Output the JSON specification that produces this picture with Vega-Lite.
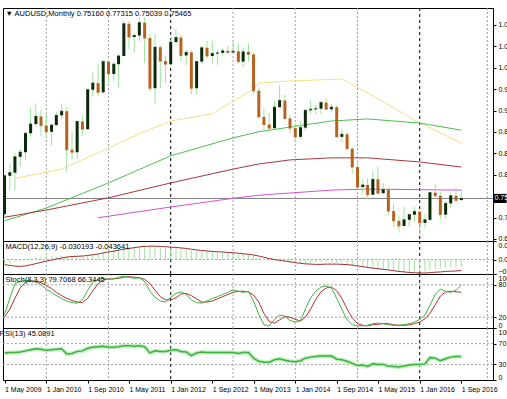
{
  "$schema": "https://vega.github.io/schema/vega-lite/v6.json",
  "padding": {"left": -4, "top": 7, "right": 0, "bottom": 0},
  "background": "white",
  "spacing": 0,
  "bounds": "flush",
  "config": {
    "view": {"stroke": "black", "strokeWidth": 1},
    "font": "Liberation Sans",
    "axis": {"labelFont": "Liberation Sans", "labelFontSize": 7, "labelColor": "black", "tickColor": "black", "tickSize": 3, "labelPadding": 2, "domain": false, "grid": false, "title": null, "labelOverlap": false},
    "axisY": {"labelOverlap": false},
    "title": {"font": "Liberation Sans", "fontSize": 7.5, "fontWeight": "normal", "anchor": "start", "color": "black", "offset": -10, "dx": 3},
    "scale": {"continuousPadding": 0}
  },
  "datasets": {
    "ohlc": [
      {"date":"2009-05-01","o":0.724,"h":0.801,"l":0.718,"c":0.799},
      {"date":"2009-06-01","o":0.799,"h":0.8225,"l":0.7705,"c":0.805},
      {"date":"2009-07-01","o":0.805,"h":0.843,"l":0.77,"c":0.836},
      {"date":"2009-08-01","o":0.836,"h":0.852,"l":0.817,"c":0.845},
      {"date":"2009-09-01","o":0.845,"h":0.884,"l":0.829,"c":0.882},
      {"date":"2009-10-01","o":0.882,"h":0.933,"l":0.875,"c":0.9},
      {"date":"2009-11-01","o":0.9,"h":0.94,"l":0.894,"c":0.915},
      {"date":"2009-12-01","o":0.915,"h":0.929,"l":0.876,"c":0.897},
      {"date":"2010-01-01","o":0.897,"h":0.919,"l":0.875,"c":0.885},
      {"date":"2010-02-01","o":0.885,"h":0.9,"l":0.858,"c":0.898},
      {"date":"2010-03-01","o":0.898,"h":0.923,"l":0.895,"c":0.917},
      {"date":"2010-04-01","o":0.917,"h":0.94,"l":0.91,"c":0.925},
      {"date":"2010-05-01","o":0.925,"h":0.933,"l":0.807,"c":0.85},
      {"date":"2010-06-01","o":0.85,"h":0.886,"l":0.831,"c":0.845},
      {"date":"2010-07-01","o":0.845,"h":0.909,"l":0.832,"c":0.905},
      {"date":"2010-08-01","o":0.905,"h":0.915,"l":0.877,"c":0.89},
      {"date":"2010-09-01","o":0.89,"h":0.97,"l":0.888,"c":0.967},
      {"date":"2010-10-01","o":0.967,"h":1.001,"l":0.954,"c":0.98},
      {"date":"2010-11-01","o":0.98,"h":1.018,"l":0.954,"c":0.962},
      {"date":"2010-12-01","o":0.962,"h":1.025,"l":0.959,"c":1.022},
      {"date":"2011-01-01","o":1.022,"h":1.025,"l":0.98,"c":0.998},
      {"date":"2011-02-01","o":0.998,"h":1.02,"l":0.983,"c":1.017},
      {"date":"2011-03-01","o":1.017,"h":1.037,"l":0.971,"c":1.033},
      {"date":"2011-04-01","o":1.033,"h":1.101,"l":1.032,"c":1.096},
      {"date":"2011-05-01","o":1.096,"h":1.101,"l":1.046,"c":1.07},
      {"date":"2011-06-01","o":1.07,"h":1.078,"l":1.04,"c":1.073},
      {"date":"2011-07-01","o":1.073,"h":1.108,"l":1.062,"c":1.098},
      {"date":"2011-08-01","o":1.098,"h":1.108,"l":1.02,"c":1.068},
      {"date":"2011-09-01","o":1.068,"h":1.076,"l":0.963,"c":0.97},
      {"date":"2011-10-01","o":0.97,"h":1.076,"l":0.939,"c":1.05},
      {"date":"2011-11-01","o":1.05,"h":1.055,"l":0.97,"c":1.023},
      {"date":"2011-12-01","o":1.023,"h":1.035,"l":0.981,"c":1.017},
      {"date":"2012-01-01","o":1.017,"h":1.065,"l":1.014,"c":1.06},
      {"date":"2012-02-01","o":1.06,"h":1.086,"l":1.058,"c":1.069},
      {"date":"2012-03-01","o":1.069,"h":1.074,"l":1.022,"c":1.034},
      {"date":"2012-04-01","o":1.034,"h":1.045,"l":1.015,"c":1.04},
      {"date":"2012-05-01","o":1.04,"h":1.045,"l":0.958,"c":0.97},
      {"date":"2012-06-01","o":0.97,"h":1.023,"l":0.958,"c":1.022},
      {"date":"2012-07-01","o":1.022,"h":1.053,"l":1.017,"c":1.049},
      {"date":"2012-08-01","o":1.049,"h":1.062,"l":1.029,"c":1.033},
      {"date":"2012-09-01","o":1.033,"h":1.062,"l":1.018,"c":1.038},
      {"date":"2012-10-01","o":1.038,"h":1.045,"l":1.015,"c":1.039},
      {"date":"2012-11-01","o":1.039,"h":1.048,"l":1.034,"c":1.043},
      {"date":"2012-12-01","o":1.043,"h":1.053,"l":1.036,"c":1.04},
      {"date":"2013-01-01","o":1.04,"h":1.06,"l":1.038,"c":1.042},
      {"date":"2013-02-01","o":1.042,"h":1.058,"l":1.018,"c":1.022},
      {"date":"2013-03-01","o":1.022,"h":1.05,"l":1.011,"c":1.041},
      {"date":"2013-04-01","o":1.041,"h":1.058,"l":1.022,"c":1.036},
      {"date":"2013-05-01","o":1.036,"h":1.038,"l":0.958,"c":0.965},
      {"date":"2013-06-01","o":0.965,"h":0.971,"l":0.911,"c":0.914},
      {"date":"2013-07-01","o":0.914,"h":0.931,"l":0.885,"c":0.899},
      {"date":"2013-08-01","o":0.899,"h":0.923,"l":0.885,"c":0.892},
      {"date":"2013-09-01","o":0.892,"h":0.945,"l":0.889,"c":0.933},
      {"date":"2013-10-01","o":0.933,"h":0.976,"l":0.932,"c":0.946},
      {"date":"2013-11-01","o":0.946,"h":0.957,"l":0.908,"c":0.911},
      {"date":"2013-12-01","o":0.911,"h":0.918,"l":0.882,"c":0.892},
      {"date":"2014-01-01","o":0.892,"h":0.9,"l":0.866,"c":0.875},
      {"date":"2014-02-01","o":0.875,"h":0.905,"l":0.87,"c":0.893},
      {"date":"2014-03-01","o":0.893,"h":0.928,"l":0.888,"c":0.927},
      {"date":"2014-04-01","o":0.927,"h":0.946,"l":0.92,"c":0.929},
      {"date":"2014-05-01","o":0.929,"h":0.937,"l":0.919,"c":0.93},
      {"date":"2014-06-01","o":0.93,"h":0.945,"l":0.92,"c":0.942},
      {"date":"2014-07-01","o":0.942,"h":0.95,"l":0.928,"c":0.929},
      {"date":"2014-08-01","o":0.929,"h":0.94,"l":0.924,"c":0.933},
      {"date":"2014-09-01","o":0.933,"h":0.937,"l":0.873,"c":0.875},
      {"date":"2014-10-01","o":0.875,"h":0.89,"l":0.865,"c":0.88},
      {"date":"2014-11-01","o":0.88,"h":0.884,"l":0.85,"c":0.852},
      {"date":"2014-12-01","o":0.852,"h":0.855,"l":0.803,"c":0.816},
      {"date":"2015-01-01","o":0.816,"h":0.83,"l":0.774,"c":0.777},
      {"date":"2015-02-01","o":0.777,"h":0.791,"l":0.762,"c":0.781},
      {"date":"2015-03-01","o":0.781,"h":0.794,"l":0.753,"c":0.762},
      {"date":"2015-04-01","o":0.762,"h":0.808,"l":0.761,"c":0.792},
      {"date":"2015-05-01","o":0.792,"h":0.816,"l":0.764,"c":0.765},
      {"date":"2015-06-01","o":0.765,"h":0.785,"l":0.764,"c":0.772},
      {"date":"2015-07-01","o":0.772,"h":0.777,"l":0.723,"c":0.73},
      {"date":"2015-08-01","o":0.73,"h":0.744,"l":0.7,"c":0.711},
      {"date":"2015-09-01","o":0.711,"h":0.721,"l":0.69,"c":0.701},
      {"date":"2015-10-01","o":0.701,"h":0.738,"l":0.7,"c":0.713},
      {"date":"2015-11-01","o":0.713,"h":0.725,"l":0.701,"c":0.723},
      {"date":"2015-12-01","o":0.723,"h":0.739,"l":0.709,"c":0.729},
      {"date":"2016-01-01","o":0.729,"h":0.732,"l":0.683,"c":0.707},
      {"date":"2016-02-01","o":0.707,"h":0.724,"l":0.697,"c":0.713},
      {"date":"2016-03-01","o":0.713,"h":0.768,"l":0.711,"c":0.766},
      {"date":"2016-04-01","o":0.766,"h":0.784,"l":0.754,"c":0.76},
      {"date":"2016-05-01","o":0.76,"h":0.768,"l":0.715,"c":0.723},
      {"date":"2016-06-01","o":0.723,"h":0.75,"l":0.715,"c":0.745},
      {"date":"2016-07-01","o":0.745,"h":0.765,"l":0.738,"c":0.76},
      {"date":"2016-08-01","o":0.76,"h":0.776,"l":0.748,"c":0.751},
      {"date":"2016-09-01","o":0.7516,"h":0.77315,"l":0.75039,"c":0.75465}
    ],
    "ma": [
      {"date":"2009-07-01","ma":"ma1","value":0.794},
      {"date":"2010-04-01","ma":"ma1","value":0.812},
      {"date":"2011-01-01","ma":"ma1","value":0.853},
      {"date":"2011-07-01","ma":"ma1","value":0.881},
      {"date":"2012-01-01","ma":"ma1","value":0.906},
      {"date":"2012-09-01","ma":"ma1","value":0.92},
      {"date":"2013-01-01","ma":"ma1","value":0.945},
      {"date":"2013-05-01","ma":"ma1","value":0.968},
      {"date":"2013-06-01","ma":"ma1","value":0.98},
      {"date":"2013-12-01","ma":"ma1","value":0.984},
      {"date":"2014-10-01","ma":"ma1","value":0.988},
      {"date":"2015-03-01","ma":"ma1","value":0.961},
      {"date":"2016-01-01","ma":"ma1","value":0.902},
      {"date":"2016-05-01","ma":"ma1","value":0.883},
      {"date":"2016-09-01","ma":"ma1","value":0.863},
      {"date":"2009-05-01","ma":"ma2","value":0.711},
      {"date":"2010-01-01","ma":"ma2","value":0.736},
      {"date":"2011-01-01","ma":"ma2","value":0.785},
      {"date":"2012-01-01","ma":"ma2","value":0.838},
      {"date":"2013-01-01","ma":"ma2","value":0.873},
      {"date":"2013-06-01","ma":"ma2","value":0.885},
      {"date":"2013-12-01","ma":"ma2","value":0.894},
      {"date":"2014-08-01","ma":"ma2","value":0.906},
      {"date":"2015-03-01","ma":"ma2","value":0.91},
      {"date":"2015-08-01","ma":"ma2","value":0.906},
      {"date":"2016-01-01","ma":"ma2","value":0.902},
      {"date":"2016-09-01","ma":"ma2","value":0.888},
      {"date":"2009-05-01","ma":"ma3","value":0.718},
      {"date":"2010-01-01","ma":"ma3","value":0.732},
      {"date":"2011-01-01","ma":"ma3","value":0.756},
      {"date":"2012-01-01","ma":"ma3","value":0.785},
      {"date":"2013-01-01","ma":"ma3","value":0.812},
      {"date":"2013-06-01","ma":"ma3","value":0.822},
      {"date":"2013-12-01","ma":"ma3","value":0.83},
      {"date":"2014-08-01","ma":"ma3","value":0.834},
      {"date":"2015-03-01","ma":"ma3","value":0.834},
      {"date":"2016-01-01","ma":"ma3","value":0.826},
      {"date":"2016-09-01","ma":"ma3","value":0.816},
      {"date":"2010-11-01","ma":"ma4","value":0.717},
      {"date":"2012-01-01","ma":"ma4","value":0.738},
      {"date":"2013-01-01","ma":"ma4","value":0.755},
      {"date":"2013-06-01","ma":"ma4","value":0.761},
      {"date":"2014-08-01","ma":"ma4","value":0.771},
      {"date":"2015-03-01","ma":"ma4","value":0.773},
      {"date":"2016-09-01","ma":"ma4","value":0.771}
    ],
    "ind": [
      {"date":"2009-05-01","macd":-0.018,"sig":-0.020,"k":25,"d":20,"rsi":52},
      {"date":"2009-06-01","macd":-0.014,"sig":-0.023,"k":55,"d":35,"rsi":53},
      {"date":"2009-07-01","macd":-0.008,"sig":-0.026,"k":82,"d":55,"rsi":53},
      {"date":"2009-08-01","macd":-0.004,"sig":-0.027,"k":86,"d":74,"rsi":54},
      {"date":"2009-09-01","macd":0.002,"sig":-0.025,"k":88,"d":85,"rsi":56},
      {"date":"2009-10-01","macd":0.007,"sig":-0.021,"k":88,"d":87,"rsi":58},
      {"date":"2009-11-01","macd":0.010,"sig":-0.016,"k":85,"d":87,"rsi":60},
      {"date":"2009-12-01","macd":0.012,"sig":-0.011,"k":80,"d":84,"rsi":59},
      {"date":"2010-01-01","macd":0.013,"sig":-0.006,"k":72,"d":79,"rsi":57},
      {"date":"2010-02-01","macd":0.012,"sig":-0.002,"k":66,"d":73,"rsi":58},
      {"date":"2010-03-01","macd":0.013,"sig":0.002,"k":60,"d":66,"rsi":59},
      {"date":"2010-04-01","macd":0.014,"sig":0.006,"k":55,"d":60,"rsi":60},
      {"date":"2010-05-01","macd":0.011,"sig":0.010,"k":50,"d":55,"rsi":50},
      {"date":"2010-06-01","macd":0.009,"sig":0.012,"k":47,"d":51,"rsi":51},
      {"date":"2010-07-01","macd":0.010,"sig":0.013,"k":46,"d":48,"rsi":55},
      {"date":"2010-08-01","macd":0.011,"sig":0.014,"k":52,"d":47,"rsi":56},
      {"date":"2010-09-01","macd":0.016,"sig":0.016,"k":70,"d":55,"rsi":61},
      {"date":"2010-10-01","macd":0.021,"sig":0.019,"k":85,"d":69,"rsi":63},
      {"date":"2010-11-01","macd":0.025,"sig":0.022,"k":90,"d":82,"rsi":64},
      {"date":"2010-12-01","macd":0.030,"sig":0.026,"k":92,"d":89,"rsi":65},
      {"date":"2011-01-01","macd":0.034,"sig":0.030,"k":90,"d":91,"rsi":63},
      {"date":"2011-02-01","macd":0.037,"sig":0.033,"k":91,"d":91,"rsi":63},
      {"date":"2011-03-01","macd":0.041,"sig":0.037,"k":94,"d":92,"rsi":64},
      {"date":"2011-04-01","macd":0.046,"sig":0.041,"k":96,"d":94,"rsi":66},
      {"date":"2011-05-01","macd":0.050,"sig":0.044,"k":94,"d":95,"rsi":66},
      {"date":"2011-06-01","macd":0.052,"sig":0.047,"k":92,"d":94,"rsi":65},
      {"date":"2011-07-01","macd":0.054,"sig":0.050,"k":93,"d":93,"rsi":66},
      {"date":"2011-08-01","macd":0.055,"sig":0.052,"k":86,"d":90,"rsi":64},
      {"date":"2011-09-01","macd":0.052,"sig":0.053,"k":68,"d":82,"rsi":52},
      {"date":"2011-10-01","macd":0.050,"sig":0.053,"k":57,"d":70,"rsi":56},
      {"date":"2011-11-01","macd":0.048,"sig":0.052,"k":50,"d":58,"rsi":55},
      {"date":"2011-12-01","macd":0.046,"sig":0.051,"k":48,"d":52,"rsi":55},
      {"date":"2012-01-01","macd":0.045,"sig":0.049,"k":57,"d":52,"rsi":57},
      {"date":"2012-02-01","macd":0.046,"sig":0.048,"k":64,"d":56,"rsi":58},
      {"date":"2012-03-01","macd":0.044,"sig":0.046,"k":67,"d":63,"rsi":55},
      {"date":"2012-04-01","macd":0.042,"sig":0.044,"k":62,"d":64,"rsi":54},
      {"date":"2012-05-01","macd":0.036,"sig":0.041,"k":52,"d":60,"rsi":47},
      {"date":"2012-06-01","macd":0.034,"sig":0.038,"k":47,"d":54,"rsi":52},
      {"date":"2012-07-01","macd":0.033,"sig":0.036,"k":46,"d":48,"rsi":54},
      {"date":"2012-08-01","macd":0.032,"sig":0.034,"k":50,"d":48,"rsi":53},
      {"date":"2012-09-01","macd":0.030,"sig":0.032,"k":55,"d":50,"rsi":53},
      {"date":"2012-10-01","macd":0.029,"sig":0.031,"k":58,"d":54,"rsi":53},
      {"date":"2012-11-01","macd":0.028,"sig":0.030,"k":62,"d":58,"rsi":53},
      {"date":"2012-12-01","macd":0.027,"sig":0.028,"k":66,"d":62,"rsi":53},
      {"date":"2013-01-01","macd":0.026,"sig":0.027,"k":71,"d":66,"rsi":53},
      {"date":"2013-02-01","macd":0.024,"sig":0.025,"k":68,"d":68,"rsi":51},
      {"date":"2013-03-01","macd":0.023,"sig":0.023,"k":66,"d":68,"rsi":53},
      {"date":"2013-04-01","macd":0.022,"sig":0.021,"k":68,"d":67,"rsi":53},
      {"date":"2013-05-01","macd":0.016,"sig":0.018,"k":50,"d":61,"rsi":42},
      {"date":"2013-06-01","macd":0.008,"sig":0.014,"k":25,"d":48,"rsi":36},
      {"date":"2013-07-01","macd":0.001,"sig":0.009,"k":6,"d":27,"rsi":34},
      {"date":"2013-08-01","macd":-0.005,"sig":0.004,"k":4,"d":12,"rsi":34},
      {"date":"2013-09-01","macd":-0.007,"sig":0.000,"k":16,"d":9,"rsi":39},
      {"date":"2013-10-01","macd":-0.007,"sig":-0.003,"k":24,"d":15,"rsi":41},
      {"date":"2013-11-01","macd":-0.009,"sig":-0.006,"k":22,"d":21,"rsi":38},
      {"date":"2013-12-01","macd":-0.012,"sig":-0.009,"k":14,"d":20,"rsi":36},
      {"date":"2014-01-01","macd":-0.016,"sig":-0.012,"k":11,"d":16,"rsi":35},
      {"date":"2014-02-01","macd":-0.017,"sig":-0.015,"k":14,"d":13,"rsi":37},
      {"date":"2014-03-01","macd":-0.016,"sig":-0.017,"k":35,"d":20,"rsi":42},
      {"date":"2014-04-01","macd":-0.014,"sig":-0.018,"k":56,"d":35,"rsi":44},
      {"date":"2014-05-01","macd":-0.012,"sig":-0.019,"k":68,"d":53,"rsi":45},
      {"date":"2014-06-01","macd":-0.010,"sig":-0.019,"k":76,"d":67,"rsi":46},
      {"date":"2014-07-01","macd":-0.009,"sig":-0.018,"k":78,"d":74,"rsi":46},
      {"date":"2014-08-01","macd":-0.009,"sig":-0.018,"k":74,"d":76,"rsi":46},
      {"date":"2014-09-01","macd":-0.012,"sig":-0.018,"k":55,"d":69,"rsi":40},
      {"date":"2014-10-01","macd":-0.014,"sig":-0.019,"k":35,"d":55,"rsi":39},
      {"date":"2014-11-01","macd":-0.018,"sig":-0.020,"k":15,"d":35,"rsi":36},
      {"date":"2014-12-01","macd":-0.023,"sig":-0.022,"k":6,"d":19,"rsi":32},
      {"date":"2015-01-01","macd":-0.029,"sig":-0.025,"k":4,"d":8,"rsi":28},
      {"date":"2015-02-01","macd":-0.032,"sig":-0.028,"k":4,"d":5,"rsi":29},
      {"date":"2015-03-01","macd":-0.036,"sig":-0.031,"k":5,"d":4,"rsi":26},
      {"date":"2015-04-01","macd":-0.036,"sig":-0.034,"k":8,"d":6,"rsi":31},
      {"date":"2015-05-01","macd":-0.037,"sig":-0.036,"k":9,"d":7,"rsi":30},
      {"date":"2015-06-01","macd":-0.038,"sig":-0.039,"k":8,"d":8,"rsi":30},
      {"date":"2015-07-01","macd":-0.041,"sig":-0.041,"k":6,"d":8,"rsi":27},
      {"date":"2015-08-01","macd":-0.044,"sig":-0.044,"k":5,"d":6,"rsi":26},
      {"date":"2015-09-01","macd":-0.047,"sig":-0.047,"k":5,"d":5,"rsi":25},
      {"date":"2015-10-01","macd":-0.048,"sig":-0.049,"k":6,"d":5,"rsi":27},
      {"date":"2015-11-01","macd":-0.048,"sig":-0.051,"k":8,"d":6,"rsi":29},
      {"date":"2015-12-01","macd":-0.047,"sig":-0.052,"k":11,"d":8,"rsi":30},
      {"date":"2016-01-01","macd":-0.049,"sig":-0.053,"k":16,"d":11,"rsi":30},
      {"date":"2016-02-01","macd":-0.047,"sig":-0.053,"k":24,"d":17,"rsi":31},
      {"date":"2016-03-01","macd":-0.042,"sig":-0.052,"k":42,"d":27,"rsi":43},
      {"date":"2016-04-01","macd":-0.037,"sig":-0.050,"k":62,"d":43,"rsi":42},
      {"date":"2016-05-01","macd":-0.036,"sig":-0.049,"k":72,"d":59,"rsi":37},
      {"date":"2016-06-01","macd":-0.033,"sig":-0.047,"k":68,"d":67,"rsi":41},
      {"date":"2016-07-01","macd":-0.030,"sig":-0.046,"k":66,"d":68,"rsi":44},
      {"date":"2016-08-01","macd":-0.029,"sig":-0.045,"k":70,"d":67,"rsi":45},
      {"date":"2016-09-01","macd":-0.0302,"sig":-0.0436,"k":79.7,"d":66.3,"rsi":45.09}
    ],
    "years": [
      {"date":"2010-01-01"},{"date":"2011-01-01"},{"date":"2013-01-01"},{"date":"2014-01-01"},{"date":"2015-01-01"},{"date":"2017-02-01"}
    ],
    "seps": [
      {"date":"2012-01-01"},{"date":"2016-01-01"}
    ],
    "one": [{"n": 1}]
  },
  "vconcat": [
    {
      "width": 490, "height": 233,
      "title": {"text": "▼ AUDUSD,Monthly  0.75160 0.77315 0.75039 0.75465"},
      "layer": [
        {"data": {"name": "years"}, "mark": {"type": "rule", "color": "#a0a0a0", "strokeDash": [2, 2], "strokeWidth": 1},
         "encoding": {"x": {"field": "date", "type": "temporal", "axis": null, "scale": {"type": "utc", "padding": 0, "domain": [{"year":2009,"month":4,"date":22,"utc":true},{"year":2017,"month":3,"date":6,"utc":true}]}}}},
        {"data": {"name": "seps"}, "mark": {"type": "rule", "color": "#000000", "strokeDash": [3, 3], "strokeWidth": 1},
         "encoding": {"x": {"field": "date", "type": "temporal", "axis": null}}},
        {"data": {"name": "one"}, "mark": {"type": "rule", "color": "#808080", "strokeWidth": 1},
         "encoding": {"y": {"datum": 0.7547, "type": "quantitative", "title": null,
           "scale": {"domain": [0.6716, 1.1267], "nice": false, "zero": false},
           "axis": {"orient": "right", "labelOverlap": false, "values": [1.0935, 1.0517, 1.01, 0.9682, 0.9264, 0.8846, 0.8428, 0.801, 0.7174, 0.6756], "labelExpr": "substring(format(datum.value, '.5f'), 0, 4)"}}}},
        {"data": {"name": "ma"}, "mark": {"type": "line", "strokeWidth": 1},
         "encoding": {"x": {"field": "date", "type": "temporal", "axis": null},
           "y": {"field": "value", "type": "quantitative", "title": null, "axis": {"orient": "right", "labelOverlap": false, "values": [1.0935, 1.0517, 1.01, 0.9682, 0.9264, 0.8846, 0.8428, 0.801, 0.7174, 0.6756], "labelExpr": "substring(format(datum.value, '.5f'), 0, 4)"}},
           "color": {"field": "ma", "type": "nominal", "legend": null, "scale": {"domain": ["ma1", "ma2", "ma3", "ma4"], "range": ["#f3df85", "#4cbf4c", "#a8383a", "#d055d0"]}}}},
        {"data": {"name": "ohlc"}, "mark": {"type": "rule", "color": "#9be39b", "strokeWidth": 1},
         "encoding": {"x": {"field": "date", "type": "temporal", "axis": null},
           "y": {"field": "l", "type": "quantitative", "title": null, "axis": {"orient": "right", "labelOverlap": false, "values": [1.0935, 1.0517, 1.01, 0.9682, 0.9264, 0.8846, 0.8428, 0.801, 0.7174, 0.6756], "labelExpr": "substring(format(datum.value, '.5f'), 0, 4)"}}, "y2": {"field": "h"}}},
        {"data": {"name": "ohlc"}, "mark": {"type": "bar", "size": 3},
         "encoding": {"x": {"field": "date", "type": "temporal", "axis": null},
           "y": {"field": "o", "type": "quantitative", "title": null, "axis": {"orient": "right", "labelOverlap": false, "values": [1.0935, 1.0517, 1.01, 0.9682, 0.9264, 0.8846, 0.8428, 0.801, 0.7174, 0.6756], "labelExpr": "substring(format(datum.value, '.5f'), 0, 4)"}}, "y2": {"field": "c"},
           "color": {"condition": {"test": "datum.c < datum.o", "value": "#b8621f"}, "value": "#0a2a0a"}}},
        {"data": {"name": "ohlc"}, "mark": {"type": "tick", "orient": "horizontal", "size": 3, "thickness": 1},
         "encoding": {"x": {"field": "date", "type": "temporal", "axis": null},
           "y": {"field": "c", "type": "quantitative", "title": null, "axis": {"orient": "right", "labelOverlap": false, "values": [1.0935, 1.0517, 1.01, 0.9682, 0.9264, 0.8846, 0.8428, 0.801, 0.7174, 0.6756], "labelExpr": "substring(format(datum.value, '.5f'), 0, 4)"}},
           "color": {"condition": {"test": "datum.c < datum.o", "value": "#b8621f"}, "value": "#0a2a0a"}}},
        {"data": {"name": "one"}, "mark": {"type": "rect", "color": "black"},
         "encoding": {"x": {"datum": {"year":2017,"month":3,"date":9,"utc":true}, "type": "temporal", "axis": null}, "x2": {"datum": {"year":2017,"month":5,"date":25,"utc":true}},
           "y": {"datum": 0.7636, "type": "quantitative", "title": null, "axis": {"orient": "right", "labelOverlap": false, "values": [1.0935, 1.0517, 1.01, 0.9682, 0.9264, 0.8846, 0.8428, 0.801, 0.7174, 0.6756], "labelExpr": "substring(format(datum.value, '.5f'), 0, 4)"}}, "y2": {"datum": 0.7458}}},
        {"data": {"name": "one"}, "mark": {"type": "text", "color": "white", "fontSize": 7, "font": "Liberation Sans", "align": "left", "baseline": "middle", "dx": 1},
         "encoding": {"x": {"datum": {"year":2017,"month":3,"date":9,"utc":true}, "type": "temporal", "axis": null},
           "y": {"datum": 0.7547, "type": "quantitative", "title": null, "axis": {"orient": "right", "labelOverlap": false, "values": [1.0935, 1.0517, 1.01, 0.9682, 0.9264, 0.8846, 0.8428, 0.801, 0.7174, 0.6756], "labelExpr": "substring(format(datum.value, '.5f'), 0, 4)"}}, "text": {"value": "0.75"}}}
      ]
    },
    {
      "width": 490, "height": 33,
      "title": {"text": "MACD(12,26,9) -0.030193 -0.043641"},
      "data": {"name": "ind"},
      "encoding": {"x": {"field": "date", "type": "temporal", "axis": null, "scale": {"type": "utc", "padding": 0, "domain": [{"year":2009,"month":4,"date":22,"utc":true},{"year":2017,"month":3,"date":6,"utc":true}]}}},
      "layer": [
        {"data": {"name": "years"}, "mark": {"type": "rule", "color": "#a0a0a0", "strokeDash": [2, 2], "strokeWidth": 1}, "encoding": {}},
        {"data": {"name": "seps"}, "mark": {"type": "rule", "color": "#000000", "strokeDash": [3, 3], "strokeWidth": 1}, "encoding": {}},
        {"data": {"name": "one"}, "mark": {"type": "rule", "color": "#a0a0a0", "strokeDash": [2, 2]},
         "encoding": {"x": null, "y": {"datum": 0, "type": "quantitative", "title": null,
           "scale": {"domain": [-0.0571, 0.0734], "nice": false, "zero": false},
           "axis": {"orient": "right", "labelOverlap": false, "values": [-0.0571, 0, 0.0734], "labelFlush": true, "labelExpr": "substring(format(datum.value, '.6f'), 0, 4)"}}}},
        {"mark": {"type": "rule", "color": "#9fe09f", "strokeWidth": 1},
         "encoding": {"y": {"field": "macd", "type": "quantitative", "title": null, "axis": {"orient": "right", "labelOverlap": false, "values": [-0.0571, 0, 0.0734], "labelFlush": true, "labelExpr": "substring(format(datum.value, '.6f'), 0, 4)"}}, "y2": {"datum": 0}}},
        {"mark": {"type": "line", "color": "#a03030", "strokeWidth": 1},
         "encoding": {"y": {"field": "sig", "type": "quantitative", "title": null, "axis": {"orient": "right", "labelOverlap": false, "values": [-0.0571, 0, 0.0734], "labelFlush": true, "labelExpr": "substring(format(datum.value, '.6f'), 0, 4)"}}}}
      ]
    },
    {
      "width": 490, "height": 54,
      "title": {"text": "Stoch(8,3,3) 79.7068 66.3445"},
      "data": {"name": "ind"},
      "encoding": {"x": {"field": "date", "type": "temporal", "axis": null, "scale": {"type": "utc", "padding": 0, "domain": [{"year":2009,"month":4,"date":22,"utc":true},{"year":2017,"month":3,"date":6,"utc":true}]}}},
      "layer": [
        {"data": {"name": "years"}, "mark": {"type": "rule", "color": "#a0a0a0", "strokeDash": [2, 2], "strokeWidth": 1}, "encoding": {}},
        {"data": {"name": "seps"}, "mark": {"type": "rule", "color": "#000000", "strokeDash": [3, 3], "strokeWidth": 1}, "encoding": {}},
        {"data": {"name": "one"}, "mark": {"type": "rule", "color": "#a0a0a0", "strokeDash": [2, 2]},
         "encoding": {"x": null, "y": {"datum": 80, "type": "quantitative", "title": null,
           "scale": {"domain": [0, 100], "nice": false},
           "axis": {"orient": "right", "labelOverlap": false, "values": [0, 20, 80, 100], "labelFlush": true}}}},
        {"data": {"name": "one"}, "mark": {"type": "rule", "color": "#a0a0a0", "strokeDash": [2, 2]},
         "encoding": {"x": null, "y": {"datum": 20, "type": "quantitative", "title": null, "axis": {"orient": "right", "labelOverlap": false, "values": [0, 20, 80, 100], "labelFlush": true}}}},
        {"mark": {"type": "line", "color": "#b03030", "strokeWidth": 1},
         "encoding": {"y": {"field": "d", "type": "quantitative", "title": null, "axis": {"orient": "right", "labelOverlap": false, "values": [0, 20, 80, 100], "labelFlush": true}}}},
        {"mark": {"type": "line", "color": "#3cb43c", "strokeWidth": 1},
         "encoding": {"y": {"field": "k", "type": "quantitative", "title": null, "axis": {"orient": "right", "labelOverlap": false, "values": [0, 20, 80, 100], "labelFlush": true}}}}
      ]
    },
    {
      "width": 490, "height": 52,
      "title": {"text": "RSI(13) 45.0891"},
      "data": {"name": "ind"},
      "encoding": {"x": {"field": "date", "type": "temporal", "scale": {"type": "utc", "padding": 0, "domain": [{"year":2009,"month":4,"date":22,"utc":true},{"year":2017,"month":3,"date":6,"utc":true}]},
        "axis": {"orient": "bottom", "format": "%-d %b %Y", "labelAlign": "left", "labelFlush": false, "labelOverlap": false, "labelPadding": 2, "tickSize": 3,
          "values": [{"year":2009,"month":5,"date":1,"utc":true},{"year":2010,"month":1,"date":1,"utc":true},{"year":2010,"month":9,"date":1,"utc":true},{"year":2011,"month":5,"date":1,"utc":true},{"year":2012,"month":1,"date":1,"utc":true},{"year":2012,"month":9,"date":1,"utc":true},{"year":2013,"month":5,"date":1,"utc":true},{"year":2014,"month":1,"date":1,"utc":true},{"year":2014,"month":9,"date":1,"utc":true},{"year":2015,"month":5,"date":1,"utc":true},{"year":2016,"month":1,"date":1,"utc":true},{"year":2016,"month":9,"date":1,"utc":true}]}}},
      "layer": [
        {"data": {"name": "years"}, "mark": {"type": "rule", "color": "#a0a0a0", "strokeDash": [2, 2], "strokeWidth": 1}, "encoding": {}},
        {"data": {"name": "seps"}, "mark": {"type": "rule", "color": "#000000", "strokeDash": [3, 3], "strokeWidth": 1}, "encoding": {}},
        {"data": {"name": "one"}, "mark": {"type": "rule", "color": "#a0a0a0", "strokeDash": [2, 2]},
         "encoding": {"x": null, "y": {"datum": 70, "type": "quantitative", "title": null,
           "scale": {"domain": [0, 100], "nice": false},
           "axis": {"orient": "right", "labelOverlap": false, "values": [0, 30, 70, 100], "labelFlush": true}}}},
        {"data": {"name": "one"}, "mark": {"type": "rule", "color": "#a0a0a0", "strokeDash": [2, 2]},
         "encoding": {"x": null, "y": {"datum": 30, "type": "quantitative", "title": null, "axis": {"orient": "right", "labelOverlap": false, "values": [0, 30, 70, 100], "labelFlush": true}}}},
        {"mark": {"type": "line", "color": "#bdeebd", "strokeWidth": 4},
         "encoding": {"y": {"field": "rsi", "type": "quantitative", "title": null, "axis": {"orient": "right", "labelOverlap": false, "values": [0, 30, 70, 100], "labelFlush": true}}}},
        {"mark": {"type": "line", "color": "#3cb43c", "strokeWidth": 1.5},
         "encoding": {"y": {"field": "rsi", "type": "quantitative", "title": null, "axis": {"orient": "right", "labelOverlap": false, "values": [0, 30, 70, 100], "labelFlush": true}}}}
      ]
    }
  ]
}
